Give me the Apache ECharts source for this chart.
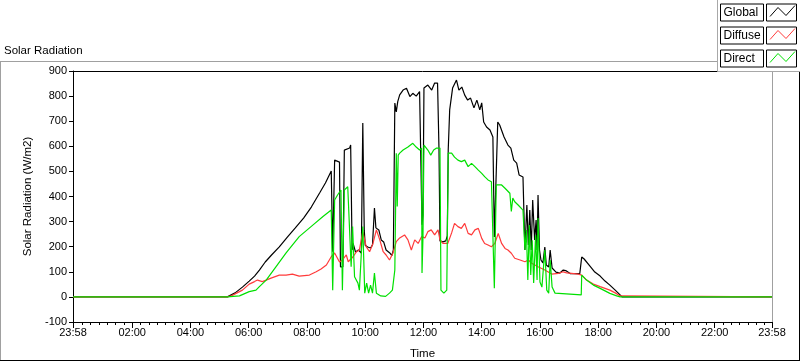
<!DOCTYPE html>
<html><head><meta charset="utf-8">
<script src="https://cdn.jsdelivr.net/npm/echarts@6/dist/echarts.min.js"></script>
<style>html,body{margin:0;padding:0;background:#fff}#c{width:800px;height:361px}</style>
</head><body><div id="c"></div>
<script>
// Time in minutes of day (-2 = 23:58 previous day), value in W/m2
const seriesNames = ['Global', 'Diffuse', 'Direct'];
const globalData = [[-2,0],[316,0],[320,4],[332,16],[347,39],[361,63],[372,83],[382,107],[394,139],[407,167],[423,199],[440,239],[456,275],[473,314],[489,358],[506,414],[518,454],[530,502],[533,180],[537,545],[547,537],[549,120],[554,120],[557,585],[568,593],[570,605],[573,187],[575,213],[580,179],[586,187],[592,175],[595,693],[598,266],[600,206],[605,199],[611,195],[615,207],[619,354],[622,275],[628,267],[633,227],[638,219],[643,187],[650,176],[655,165],[658,187],[661,772],[664,737],[667,778],[671,805],[678,824],[685,831],[692,798],[698,811],[705,800],[712,818],[716,824],[717,287],[719,326],[721,832],[729,844],[737,824],[743,852],[749,852],[752,585],[754,223],[760,219],[766,223],[769,243],[771,585],[774,745],[780,832],[788,864],[793,824],[799,836],[805,804],[811,784],[817,792],[824,753],[830,784],[836,745],[840,773],[844,697],[850,677],[857,665],[863,637],[866,239],[873,697],[877,685],[886,637],[894,605],[900,593],[906,545],[912,533],[917,486],[925,478],[929,187],[933,366],[936,207],[939,346],[942,187],[945,386],[949,227],[952,306],[954,187],[956,406],[959,187],[962,147],[966,135],[970,199],[973,127],[978,119],[981,187],[985,115],[993,99],[1001,95],[1008,107],[1013,105],[1022,93],[1042,93],[1046,159],[1051,151],[1063,123],[1073,99],[1084,83],[1094,63],[1104,47],[1115,27],[1125,8],[1129,0],[1438,0]];
const diffuseData = [[-2,0],[316,0],[324,4],[347,27],[361,51],[372,61],[378,67],[388,61],[406,75],[423,87],[437,87],[450,91],[464,83],[485,87],[499,100],[509,111],[520,127],[530,160],[537,175],[547,139],[553,147],[561,167],[565,140],[575,160],[582,180],[588,187],[595,260],[602,200],[609,180],[616,213],[623,267],[630,227],[637,180],[643,167],[650,147],[657,174],[664,220],[671,235],[681,247],[688,227],[695,187],[702,227],[709,213],[716,240],[723,235],[729,260],[736,267],[743,247],[750,267],[754,227],[760,213],[770,213],[778,255],[784,293],[791,280],[798,273],[805,293],[812,253],[819,247],[826,267],[833,273],[840,233],[846,213],[853,207],[860,200],[867,213],[874,253],[881,213],[888,193],[894,187],[901,174],[908,154],[919,147],[929,140],[936,147],[943,134],[956,120],[970,107],[984,91],[998,94],[1008,100],[1015,96],[1025,94],[1039,91],[1046,87],[1056,67],[1070,51],[1084,41],[1104,27],[1115,16],[1125,4],[1129,0],[1438,0]];
const directData = [[-2,0],[316,0],[341,4],[361,21],[375,27],[382,41],[396,67],[416,120],[437,175],[464,240],[492,286],[513,320],[530,346],[533,27],[537,386],[543,406],[550,426],[553,27],[557,426],[564,439],[568,439],[571,120],[574,280],[578,80],[585,55],[588,27],[592,175],[595,280],[599,15],[603,55],[607,15],[611,47],[615,15],[619,95],[623,15],[632,4],[642,2],[650,15],[656,27],[661,107],[664,572],[666,360],[668,565],[671,573],[678,585],[688,597],[698,612],[705,597],[712,585],[716,593],[717,95],[719,240],[721,605],[729,585],[735,565],[741,585],[747,593],[754,593],[756,27],[762,15],[768,27],[771,573],[778,573],[784,557],[791,545],[798,539],[805,545],[812,519],[819,532],[826,519],[833,505],[840,492],[846,479],[853,466],[860,459],[864,459],[866,35],[870,446],[881,446],[888,433],[898,413],[901,340],[904,394],[908,379],[915,366],[925,346],[929,187],[932,266],[935,67],[938,286],[941,87],[944,226],[947,55],[951,246],[954,67],[956,314],[960,59],[964,39],[970,187],[974,27],[978,15],[981,147],[985,39],[991,15],[995,8],[1045,8],[1046,87],[1056,67],[1070,47],[1084,34],[1104,14],[1118,4],[1125,0],[1438,0]];
const xMajorTicks = [-2,120,240,360,480,600,720,840,960,1080,1200,1320,1438];
const yMin = -100, yMax = 900, yStep = 100;
const chartTitle = 'Solar Radiation';
const yAxisTitle = 'Solar Radiation (W/m2)';
const xAxisTitle = 'Time';

const colors = ['#000000', '#ff3b3b', '#00e000'];
const FONT = '"Liberation Sans", Arial, sans-serif';

const xMinorTicks = [];
for (let h = 0; h < 12; h++) for (let k = 1; k < 7; k++) xMinorTicks.push(120*h + k*120/7);

function fmt(v) {
  let m = Math.round(v); if (m < 0) m += 1440;
  const h = Math.floor(m/60) % 24, mm = m % 60;
  return String(h).padStart(2,'0') + ':' + String(mm).padStart(2,'0');
}

const chart = echarts.init(document.getElementById('c'), null, {renderer:'canvas'});

// legend graphic
const legendEls = [
  {type:'rect', shape:{x:717.5, y:-1, width:84, height:72.5}, style:{fill:'#fff', stroke:'#a8a8a8', lineWidth:1}, z:10}
];
seriesNames.forEach((n, i) => {
  const cy = 12.5 + i*23;
  legendEls.push({type:'rect', shape:{x:720.5, y:cy-8.5, width:43, height:17}, style:{fill:'#fff', stroke:'#000', lineWidth:1}, z:11});
  legendEls.push({type:'text', x:723.5, y:cy+0.5, style:{text:n, font:'12px ' + FONT, fill:'#000', verticalAlign:'middle'}, z:12});
  legendEls.push({type:'rect', shape:{x:766.5, y:cy-8.5, width:30, height:17}, style:{fill:'#fff', stroke:'#000', lineWidth:1}, z:11});
  legendEls.push({type:'polyline', shape:{points:[[770,cy+4],[778,cy-5],[786,cy+3],[795,cy-7]]}, style:{stroke:colors[i], lineWidth:1, fill:null}, z:12});
});

const option = {
  animation: false,
  backgroundColor: '#fff',
  textStyle: {fontFamily: FONT},
  grid: {left:73, right:28, top:71, bottom:39, show:false, containLabel:false, outerBoundsMode:'none'},
  xAxis: [
    {type:'value', min:-2, max:1438, position:'bottom',
     axisLine:{show:true, onZero:false, lineStyle:{color:'#000', width:1}},
     axisTick:{show:true, customValues:xMajorTicks, length:6, lineStyle:{color:'#000'}},
     axisLabel:{show:true, customValues:xMajorTicks, formatter:fmt, fontSize:11, color:'#000', margin:5, fontFamily:FONT},
     splitLine:{show:false},
     name:xAxisTitle, nameLocation:'middle', nameGap:26, nameTextStyle:{fontSize:11.5, color:'#000', fontFamily:FONT}},
    {type:'value', min:-2, max:1438, position:'bottom',
     axisLine:{show:false, onZero:false}, axisTick:{show:true, customValues:xMinorTicks, length:3, lineStyle:{color:'#000'}},
     axisLabel:{show:false}, splitLine:{show:false}},
    {type:'value', min:-2, max:1438, position:'top',
     axisLine:{show:true, onZero:false, lineStyle:{color:'#000'}}, axisTick:{show:false}, axisLabel:{show:false}, splitLine:{show:false}}
  ],
  yAxis: [
    {type:'value', min:yMin, max:yMax, interval:yStep,
     axisLine:{show:true, onZero:false, lineStyle:{color:'#000'}},
     axisTick:{show:true, length:4, lineStyle:{color:'#000'}},
     axisLabel:{fontSize:11, color:'#000', margin:6, fontFamily:FONT},
     splitLine:{show:false},
     name:yAxisTitle, nameLocation:'middle', nameGap:36, nameTextStyle:{fontSize:11.5, color:'#000', fontFamily:FONT}},
    {type:'value', min:yMin, max:yMax, position:'right',
     axisLine:{show:true, onZero:false, lineStyle:{color:'#a0a0a0'}}, axisTick:{show:false}, axisLabel:{show:false}, splitLine:{show:false}}
  ],
  series: [
    {name:seriesNames[0], type:'line', data:globalData, showSymbol:false, symbol:'none', lineStyle:{color:colors[0], width:1.2}, itemStyle:{color:colors[0]}, z:2},
    {name:seriesNames[1], type:'line', data:diffuseData, showSymbol:false, symbol:'none', lineStyle:{color:colors[1], width:1.2}, itemStyle:{color:colors[1]}, z:3},
    {name:seriesNames[2], type:'line', data:directData, showSymbol:false, symbol:'none', lineStyle:{color:colors[2], width:1.2}, itemStyle:{color:colors[2]}, z:4}
  ],
  graphic: [
    {type:'text', x:4, y:51, style:{text:chartTitle, font:'11.5px ' + FONT, fill:'#000', verticalAlign:'middle'}},
    {type:'line', shape:{x1:0, y1:61.5, x2:800, y2:61.5}, style:{stroke:'#a0a0a0', lineWidth:1}},
    {type:'line', shape:{x1:0.5, y1:61.5, x2:0.5, y2:361}, style:{stroke:'#a0a0a0', lineWidth:1}},
    {type:'line', shape:{x1:0, y1:360.5, x2:800, y2:360.5}, style:{stroke:'#000', lineWidth:1}},
    {type:'line', shape:{x1:799.5, y1:61.5, x2:799.5, y2:361}, style:{stroke:'#000', lineWidth:1}},
    ...legendEls
  ]
};
chart.setOption(option);
</script>
</body></html>
